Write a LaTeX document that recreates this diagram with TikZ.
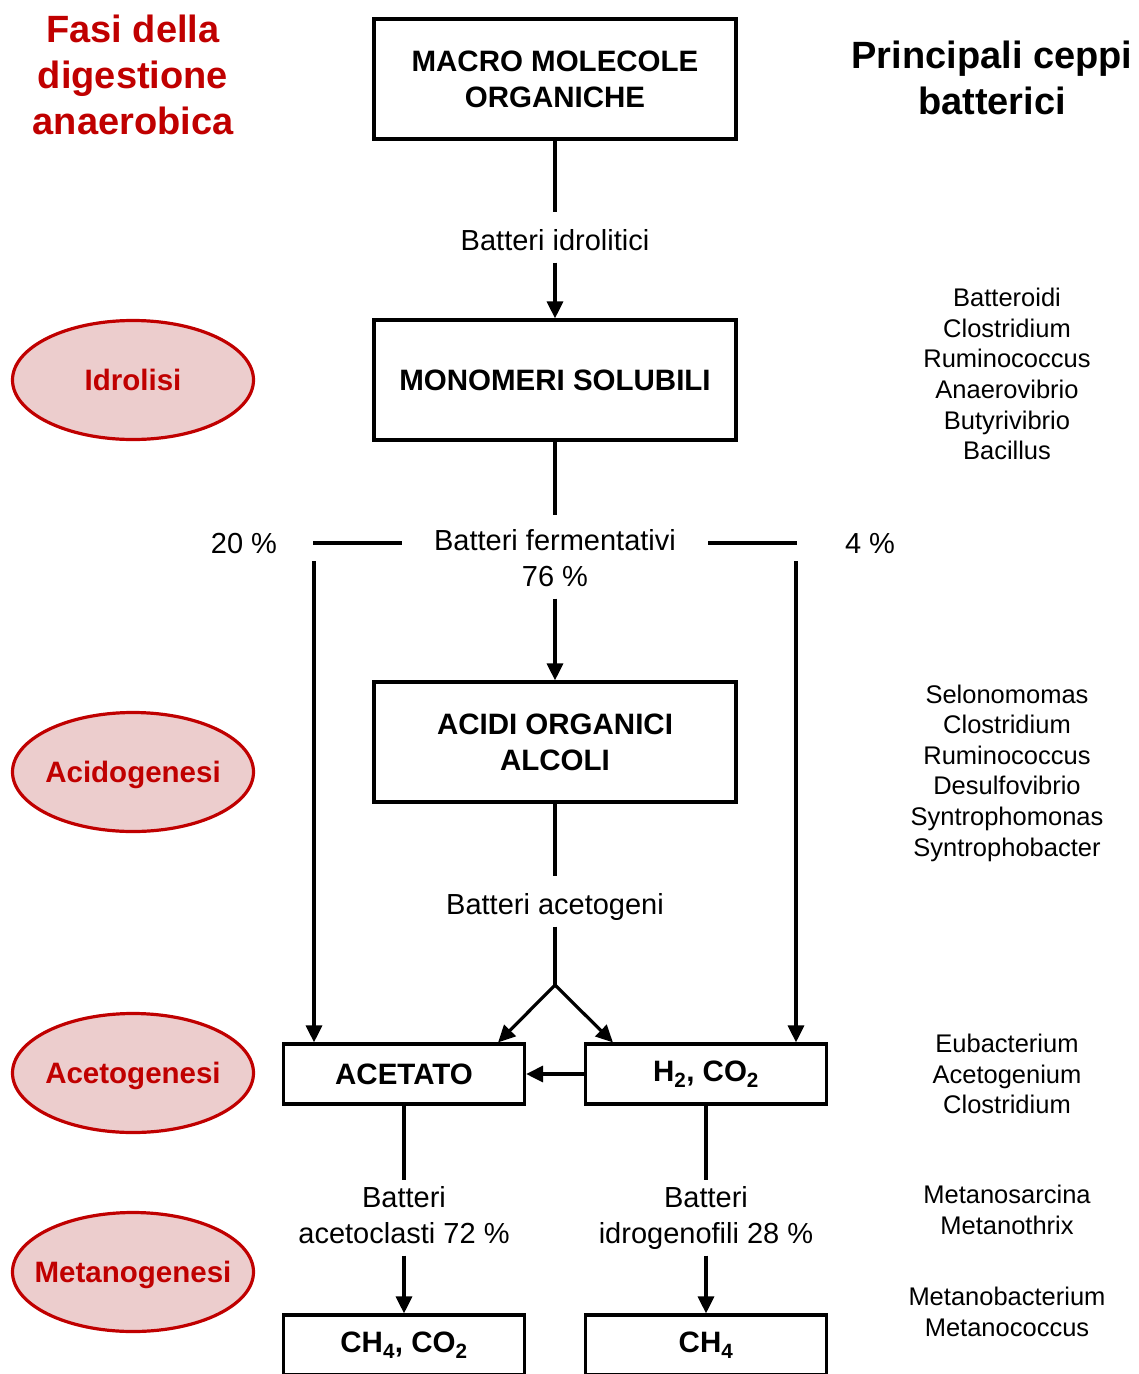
\documentclass[tikz,border=0pt]{standalone}
\usepackage{fontspec}
\setmainfont{Liberation Sans}
\usetikzlibrary{arrows.meta,shapes.geometric}
\definecolor{phasered}{RGB}{192,0,0}
\definecolor{phasepink}{RGB}{236,205,205}
\newcommand{\zw}[1]{\raisebox{-10pt}[0pt][0pt]{\makebox[0pt]{#1}}}
\begin{document}
\begin{tikzpicture}[x=1pt,y=-1pt,
  boxbig/.style={draw,line width=3.2pt,minimum width=362pt,minimum height=120pt,align=center,
     font=\fontsize{29.5}{36}\selectfont\bfseries},
  boxsmall/.style={draw,line width=3.2pt,minimum width=241pt,minimum height=60pt,align=center,
     font=\fontsize{29.5}{36}\selectfont\bfseries},
  phase/.style={ellipse,draw=phasered,fill=phasepink,line width=3.2pt,minimum width=241pt,minimum height=119pt,
     inner sep=0pt,text=phasered,font=\fontsize{29.5}{36}\selectfont\bfseries},
  lbl/.style={inner xsep=8pt,inner ysep=6pt,text height=21pt,text depth=6pt,font=\fontsize{29}{35}\selectfont},
  species/.style={align=center,font=\fontsize{25.5}{30.6}\selectfont},
  conn/.style={line width=3.2pt},
  arr/.style={line width=3.2pt,-{Triangle[length=17pt,width=16pt]}}
]
\clip (0,0) rectangle (1139,1374);
\fill[white] (0,0) rectangle (1139,1374);

% titles
\node[align=center,text=phasered,font=\fontsize{38}{46}\selectfont\bfseries] (title) at (133,75) {Fasi della\\digestione\\anaerobica};
\node[align=center,font=\fontsize{38}{46}\selectfont\bfseries] (ceppi) at (992,78) {Principali ceppi\\batterici};

% main boxes
\node[boxbig] (macro) at (555,79) {MACRO MOLECOLE\\ORGANICHE};
\node[boxbig] (mono) at (555,380) {MONOMERI SOLUBILI};
\node[boxbig] (acidi) at (555,742) {ACIDI ORGANICI\\ALCOLI};
\node[boxsmall] (acet) at (404,1074) {ACETATO};
\node[boxsmall] (hco) at (706,1074) {H\textsubscript{2}, CO\textsubscript{2}};
\node[boxsmall] (chco) at (404,1345) {CH\textsubscript{4}, CO\textsubscript{2}};
\node[boxsmall] (ch) at (706,1345) {CH\textsubscript{4}};

% phases
\node[phase] (idrolisi) at (133,380) {\zw{Idrolisi}};
\node[phase] (acido) at (133,772) {\zw{Acidogenesi}};
\node[phase] (aceto) at (133,1073) {\zw{Acetogenesi}};
\node[phase] (metano) at (133,1272) {\zw{Metanogenesi}};

% labels
\node[lbl] (idro) at (555,243) {Batteri idrolitici};
\node[lbl] (ferm) at (555,543) {Batteri fermentativi};
\node[lbl] (p76) at (555,579) {76 \%};
\node[lbl] (p20) at (244,546) {20 \%};
\node[lbl] (p4) at (870,546) {4 \%};
\node[lbl] (acetog) at (555,907) {Batteri acetogeni};
\node[lbl] (bat1) at (404,1200) {Batteri};
\node[lbl] (acl) at (404,1236) {acetoclasti 72 \%};
\node[lbl] (bat2) at (706,1200) {Batteri};
\node[lbl] (idg) at (706,1236) {idrogenofili 28 \%};

% species
\node[species] (sp1) at (1007,374) {Batteroidi\\Clostridium\\Ruminococcus\\Anaerovibrio\\Butyrivibrio\\Bacillus};
\node[species] (sp2) at (1007,773) {Selonomomas\\Clostridium\\Ruminococcus\\Desulfovibrio\\Syntrophomonas\\Syntrophobacter};
\node[species] (sp3) at (1007,1074) {Eubacterium\\Acetogenium\\Clostridium};
\node[species] (sp4) at (1007,1210) {Metanosarcina\\Metanothrix};
\node[species] (sp5) at (1007,1312) {Metanobacterium\\Metanococcus};

% connectors
\draw[conn] (macro.south) -- ([yshift=11pt]idro.north);
\draw[arr] (idro.south) -- (mono.north);
\draw[conn] (mono.south) -- ([yshift=8pt]ferm.north);
\draw[arr] (p76.south) -- (acidi.north);

\coordinate (hl1) at (313,543);
\coordinate (hl2) at (402,543);
\coordinate (hr1) at (708,543);
\coordinate (hr2) at (797,543);
\draw[conn] (hl1) -- (hl2);
\draw[conn] (hr1) -- (hr2);
\coordinate (vl) at (314,561);
\coordinate (vr) at (796,561);
\draw[arr] (vl) -- (vl |- acet.north);
\draw[arr] (vr) -- (vr |- hco.north);

\draw[conn] (acidi.south) -- ([yshift=11pt]acetog.north);
\coordinate (fork) at (555,985);
\draw[conn] (acetog.south) -- (fork);
\draw[arr] (fork) -- ([xshift=-28pt]acet.north east);
\draw[arr] (fork) -- ([xshift=29pt]hco.north west);
\draw[arr] (hco.west) -- (acet.east);

\draw[conn] (acet.south) -- (bat1.north);
\draw[arr] (acl.south) -- (chco.north);
\draw[conn] (hco.south) -- (bat2.north);
\draw[arr] (idg.south) -- (ch.north);
\end{tikzpicture}
\end{document}
